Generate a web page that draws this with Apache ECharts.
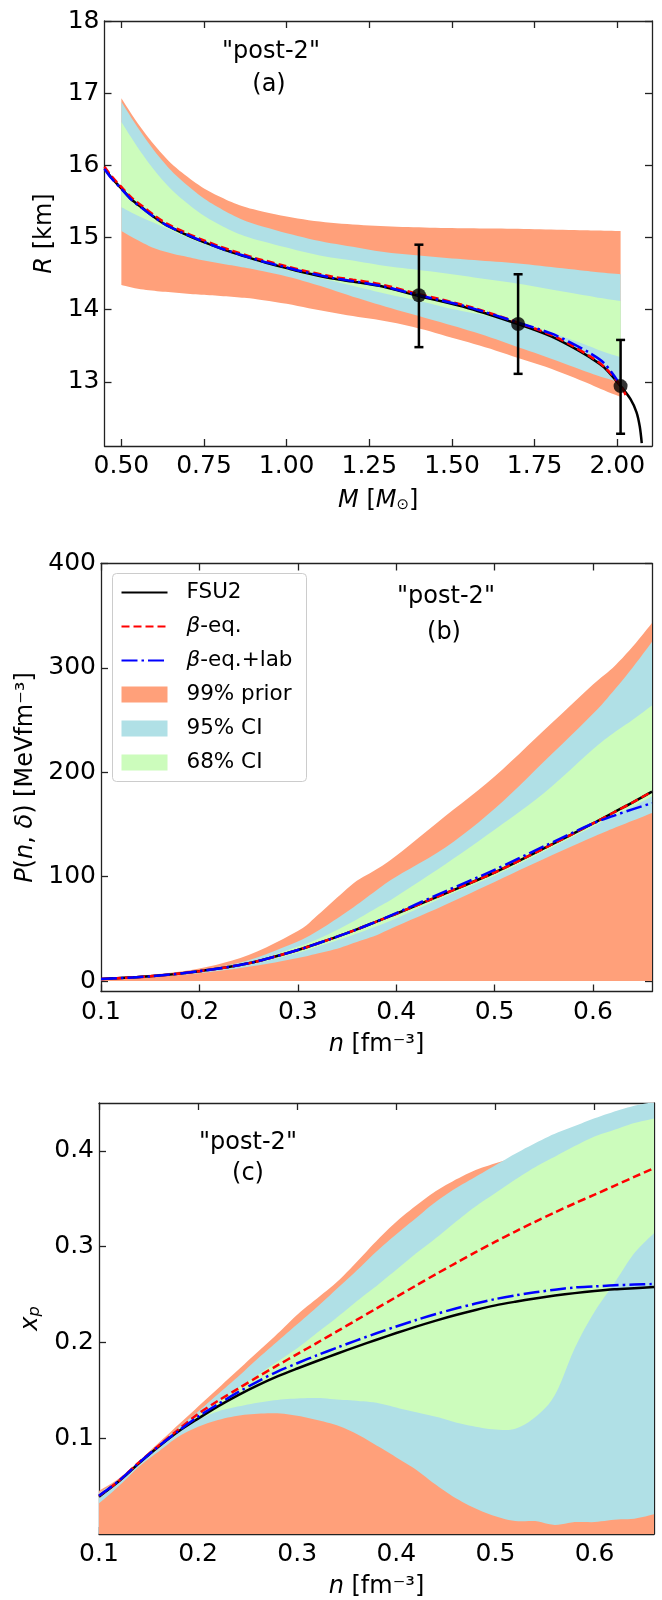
<!DOCTYPE html>
<html>
<head>
<meta charset="utf-8">
<script src="https://cdn.jsdelivr.net/npm/echarts@6/dist/echarts.min.js"></script>
<style>
html,body{margin:0;padding:0;background:#fff;}
#chart{width:662px;height:1600px;}
</style>
</head>
<body>
<div id="chart"></div>
<script>
// ---------------- Panel (a): M-R ----------------
const A_M = [0.5,0.55,0.6,0.65,0.7,0.75,0.8,0.85,0.9,1.0,1.1,1.2,1.3,1.4,1.5,1.6,1.7,1.8,1.9,1.95,2.01];
const A_99_HI = [16.93,16.58,16.28,16.03,15.84,15.68,15.56,15.46,15.39,15.29,15.22,15.18,15.155,15.14,15.13,15.125,15.12,15.11,15.10,15.095,15.09];
const A_95_HI = [16.88,16.52,16.20,15.93,15.72,15.54,15.40,15.28,15.19,15.06,14.95,14.87,14.795,14.75,14.71,14.675,14.64,14.59,14.54,14.515,14.49];
const A_68_HI = [16.60,16.245,15.93,15.67,15.47,15.30,15.17,15.06,14.98,14.86,14.75,14.68,14.605,14.55,14.49,14.425,14.36,14.28,14.20,14.16,14.12];
const A_68_LO = [15.42,15.30,15.20,15.10,15.00,14.91,14.83,14.76,14.69,14.55,14.44,14.33,14.22,14.12,14.01,13.92,13.82,13.68,13.52,13.43,13.34];
const A_95_LO = [15.09,14.96,14.85,14.78,14.73,14.68,14.64,14.60,14.56,14.46,14.33,14.18,14.04,13.91,13.78,13.64,13.48,13.32,13.15,13.07,12.99];
const A_99_LO = [14.34,14.29,14.26,14.24,14.22,14.205,14.19,14.17,14.15,14.08,13.99,13.91,13.84,13.74,13.61,13.48,13.33,13.18,13.00,12.90,12.79];

const A_FSU2_M = [0.449,0.47,0.5,0.53,0.566,0.6,0.636,0.7,0.736,0.8,0.837,0.9,0.938,1.0,1.038,1.139,1.2,1.28,1.4,1.55,1.7,1.8,1.856,1.92,1.96,2.01,2.04,2.058,2.068,2.074];
const A_FSU2_R = [15.96,15.83,15.68,15.53,15.40,15.28,15.17,15.03,14.96,14.85,14.79,14.70,14.65,14.575,14.53,14.43,14.39,14.33,14.19,14.02,13.80,13.63,13.50,13.33,13.20,12.94,12.76,12.58,12.38,12.15];
const A_BEQ_M = [0.449,0.47,0.5,0.53,0.566,0.6,0.636,0.7,0.736,0.8,0.837,0.9,0.938,1.0,1.038,1.139,1.2,1.28,1.4,1.55,1.7,1.8,1.856,1.92,1.96,2.01,2.027];
const A_BEQ_R = [15.98,15.85,15.70,15.555,15.425,15.305,15.195,15.055,14.985,14.87,14.815,14.72,14.675,14.60,14.555,14.455,14.415,14.355,14.215,14.045,13.82,13.65,13.52,13.345,13.21,12.95,12.80];
const A_LAB_M = [0.449,0.47,0.5,0.53,0.566,0.6,0.636,0.7,0.736,0.8,0.837,0.9,0.938,1.0,1.038,1.139,1.2,1.28,1.4,1.55,1.7,1.8,1.856,1.92,1.96,2.0];
const A_LAB_R = [15.95,15.82,15.675,15.525,15.395,15.28,15.17,15.035,14.965,14.85,14.795,14.705,14.655,14.585,14.54,14.44,14.395,14.335,14.20,14.035,13.82,13.67,13.55,13.39,13.26,13.02];

const A_OBS_M = [1.4,1.7,2.01];
const A_OBS_R = [14.2,13.8,12.94];
const A_OBS_LO = [13.48,13.11,12.28];
const A_OBS_HI = [14.9,14.49,13.58];

const A_X_TICKS = [0.5,0.75,1.0,1.25,1.5,1.75,2.0];
const A_Y_TICKS = [13,14,15,16,17,18];

// ---------------- Panel (b): P(n) ----------------
const B_N = [0.1,0.15,0.2,0.25,0.3,0.32,0.34,0.36,0.38,0.4,0.45,0.5,0.55,0.6,0.62,0.64,0.66];
const B_99_HI = [3,6,12,25,48,63,80,96,107,120,158,196,240,284,300,320,343];
const B_95_HI = [2.5,5,10.5,20,38,48,60,73,87,100,128,165,210,256,277,300,325];
const B_68_HI = [2.3,4.8,10,18,33,40,49,59,70,81,112,145,180,222,237,250,264];
const B_68_LO = [1.8,4,8.5,15.5,27,33,39,45.5,52.5,60,81,101,124,148,158,167,177];
const B_95_LO = [1.5,3.5,7.5,13.6,22,26.5,31,37.5,44,52.5,73,95,117,138,146,153.5,161];
const B_99_LO = [0,0,0,0,0,0,0,0,0,0,0,0,0,0,0,0,0];
const B_FSU2 = [2,4.5,9.5,17,29.7,36,42.5,49.5,57,64.5,84,104,127,151,161,171,181.5];
const B_BEQ = [2,4.5,9.5,17,29.7,36,42.5,49.5,57,64.5,84,104,127,151,161,171,181.5];
const B_LAB = [2,4.5,9.5,17,29.7,36,42.5,49.5,57,65,86,106.5,129,151,158,164.5,170.5];
const B_X_TICKS = [0.1,0.2,0.3,0.4,0.5,0.6];
const B_Y_TICKS = [0,100,200,300,400];

// ---------------- Panel (c): x_p(n) ----------------
const C_N = [0.1,0.12,0.14,0.16,0.18,0.2,0.22,0.24,0.26,0.28,0.3,0.32,0.34,0.36,0.38,0.4,0.42,0.44,0.46,0.48,0.5,0.52,0.54,0.56,0.58,0.6,0.62,0.64,0.66];
const C_99_HI = [0.045,0.058,0.076,0.095,0.114,0.133,0.152,0.171,0.190,0.209,0.229,0.246,0.263,0.284,0.306,0.326,0.343,0.358,0.370,0.380,0.387,0.393,0.398,0.402,0.406,0.410,0.414,0.418,0.422];
const C_95_HI = [0.043,0.057,0.075,0.093,0.111,0.128,0.146,0.164,0.183,0.201,0.219,0.237,0.256,0.275,0.295,0.313,0.330,0.347,0.361,0.373,0.385,0.397,0.408,0.418,0.426,0.434,0.441,0.447,0.451];
const C_68_HI = [0.041,0.0565,0.0745,0.092,0.109,0.124,0.138,0.152,0.166,0.180,0.194,0.210,0.226,0.243,0.259,0.276,0.293,0.309,0.326,0.342,0.356,0.370,0.383,0.394,0.405,0.415,0.422,0.429,0.4337];
const C_68_LO = [0.038,0.054,0.072,0.090,0.106,0.119,0.128,0.133,0.137,0.140,0.1415,0.142,0.1405,0.139,0.137,0.132,0.127,0.1225,0.1165,0.112,0.109,0.110,0.122,0.145,0.194,0.232,0.262,0.293,0.314];
const C_95_LO = [0.032,0.050,0.070,0.086,0.1015,0.112,0.119,0.1235,0.1255,0.126,0.1235,0.119,0.1135,0.1045,0.0925,0.080,0.067,0.0513,0.0374,0.0265,0.0185,0.0135,0.0135,0.0095,0.0125,0.0125,0.015,0.016,0.0205];
const C_99_LO = [0,0,0,0,0,0,0,0,0,0,0,0,0,0,0,0,0,0,0,0,0,0,0,0,0,0,0,0,0];
const C_FSU2 = [0.039,0.055,0.0735,0.091,0.107,0.1205,0.1333,0.1448,0.1552,0.1646,0.1728,0.1806,0.1882,0.1956,0.2028,0.2098,0.2165,0.2228,0.2286,0.2339,0.2387,0.2425,0.2459,0.2489,0.2515,0.2537,0.2555,0.2567,0.2578];
const C_BEQ = [0.040,0.0555,0.0745,0.092,0.109,0.1255,0.139,0.1515,0.164,0.176,0.1878,0.1996,0.2115,0.2235,0.2355,0.2475,0.2595,0.2713,0.2829,0.2942,0.3052,0.3158,0.326,0.3358,0.3452,0.3543,0.3635,0.3728,0.382];
const C_LAB = [0.040,0.0555,0.074,0.0915,0.1075,0.1225,0.1355,0.1478,0.1592,0.1696,0.1783,0.1866,0.1945,0.2022,0.2096,0.2167,0.2234,0.2297,0.2354,0.2406,0.2453,0.2491,0.2523,0.2551,0.2574,0.2585,0.2597,0.2604,0.261];
const C_X_TICKS = [0.1,0.2,0.3,0.4,0.5,0.6];
const C_Y_TICKS = [0.1,0.2,0.3,0.4];

// ---------------- styling helpers ----------------
const FONT = 'DejaVu Sans';
const C_PRIOR = '#ffa07a', C_95 = '#b0e0e6', C_68 = '#ccfcbc';
const TICK_FS = 25;
const zip = (xs, ys) => xs.map((x, i) => [x, ys[i]]);

function xAxes(gi, min, max, ticks, dec, name, gap) {
  const common = {
    type: 'value', gridIndex: gi, min, max, splitLine: {show: false},
    axisLine: {show: true, onZero: false, lineStyle: {color: '#222', width: 1.3}},
    axisTick: {show: true, inside: true, length: 7, customValues: ticks, lineStyle: {color: '#222', width: 1.3}}
  };
  return [
    Object.assign({}, common, {
      position: 'bottom',
      axisLabel: {show: true, customValues: ticks, margin: 8, fontFamily: FONT, fontSize: TICK_FS, color: '#000',
        formatter: v => Number(v).toFixed(dec)},
      name, nameLocation: 'middle', nameGap: gap,
      nameTextStyle: {fontFamily: FONT, fontSize: 24, color: '#000',
        rich: {i: {fontFamily: FONT, fontSize: 24, fontStyle: 'italic', color: '#000'},
               sub: {fontFamily: FONT, fontSize: 15, color: '#000', verticalAlign: 'bottom', lineHeight: 20}}}
    }),
    Object.assign({}, common, {position: 'top', axisLabel: {show: false}})
  ];
}
function yAxes(gi, min, max, ticks, dec, name, gap) {
  const common = {
    type: 'value', gridIndex: gi, min, max, splitLine: {show: false},
    axisLine: {show: true, onZero: false, lineStyle: {color: '#222', width: 1.3}},
    axisTick: {show: true, inside: true, length: 7, customValues: ticks, lineStyle: {color: '#222', width: 1.3}}
  };
  return [
    Object.assign({}, common, {
      position: 'left',
      axisLabel: {show: true, customValues: ticks, margin: 5, fontFamily: FONT, fontSize: TICK_FS, color: '#000',
        formatter: v => Number(v).toFixed(dec)},
      name, nameLocation: 'middle', nameGap: gap, nameRotate: 90,
      nameTextStyle: {fontFamily: FONT, fontSize: 24, color: '#000',
        rich: {i: {fontFamily: FONT, fontSize: 24, fontStyle: 'italic', color: '#000'},
               sub: {fontFamily: FONT, fontSize: 16, fontStyle: 'italic', color: '#000', verticalAlign: 'bottom', lineHeight: 22}}}
    }),
    Object.assign({}, common, {position: 'right', axisLabel: {show: false}})
  ];
}

// Catmull-Rom smoothing of a pixel polyline (drawing style only)
function smoothPath(p, seg) {
  if (p.length < 3) return p.slice();
  const out = [];
  for (let i = 0; i < p.length - 1; i++) {
    const p0 = p[Math.max(i - 1, 0)], p1 = p[i], p2 = p[i + 1], p3 = p[Math.min(i + 2, p.length - 1)];
    for (let s = 0; s < seg; s++) {
      const t = s / seg, t2 = t * t, t3 = t2 * t;
      out.push([0, 1].map(k => 0.5 * ((2 * p1[k]) + (-p0[k] + p2[k]) * t +
        (2 * p0[k] - 5 * p1[k] + 4 * p2[k] - p3[k]) * t2 + (-p0[k] + 3 * p1[k] - 3 * p2[k] + p3[k]) * t3)));
    }
  }
  out.push(p[p.length - 1]);
  return out;
}

function band(name, gi, xs, lo, hi, color) {
  return {
    type: 'custom', name, xAxisIndex: 2 * gi, yAxisIndex: 2 * gi, silent: true, clip: true, z: 1,
    itemStyle: {color},
    encode: {x: 0, y: [1, 2]},
    data: xs.map((x, i) => [x, lo[i], hi[i]]),
    renderItem: function (params, api) {
      if (params.dataIndex !== 0) return null;
      const up = xs.map((x, i) => api.coord([x, hi[i]]));
      const dn = xs.map((x, i) => api.coord([x, lo[i]]));
      const pts = smoothPath(up, 6).concat(smoothPath(dn, 6).reverse());
      return {type: 'polygon', shape: {points: pts}, style: {fill: color}};
    }
  };
}
function line(name, gi, data, color, width, type, z) {
  return {
    type: 'line', name, xAxisIndex: 2 * gi, yAxisIndex: 2 * gi, data, symbol: 'none', showSymbol: false,
    smooth: 0.3, clip: true, z: z, silent: true,
    itemStyle: {color},
    lineStyle: {color, width, type}
  };
}

const series = [];
// panel a
series.push(band('99% prior', 0, A_M, A_99_LO, A_99_HI, C_PRIOR));
series.push(band('95% CI', 0, A_M, A_95_LO, A_95_HI, C_95));
series.push(band('68% CI', 0, A_M, A_68_LO, A_68_HI, C_68));
series.push(line('FSU2', 0, zip(A_FSU2_M, A_FSU2_R), '#000000', 2.5, 'solid', 3));
series.push(line('β-eq.', 0, zip(A_BEQ_M, A_BEQ_R), '#ff0000', 2.5, [8, 4], 4));
series.push(line('β-eq.+lab', 0, zip(A_LAB_M, A_LAB_R), '#0000ff', 2.5, [16, 4, 2.5, 4], 5));
series.push({
  type: 'custom', name: 'obs-err', xAxisIndex: 0, yAxisIndex: 0, z: 6, silent: true,
  encode: {x: 0, y: [2, 3]},
  data: A_OBS_M.map((m, i) => [m, A_OBS_R[i], A_OBS_LO[i], A_OBS_HI[i]]),
  renderItem: function (params, api) {
    const x = api.value(0);
    const top = api.coord([x, api.value(3)]);
    const bot = api.coord([x, api.value(2)]);
    const st = {stroke: '#000', lineWidth: 2.5};
    return {type: 'group', children: [
      {type: 'line', shape: {x1: top[0], y1: top[1], x2: bot[0], y2: bot[1]}, style: st},
      {type: 'line', shape: {x1: top[0] - 4.5, y1: top[1], x2: top[0] + 4.5, y2: top[1]}, style: st},
      {type: 'line', shape: {x1: bot[0] - 4.5, y1: bot[1], x2: bot[0] + 4.5, y2: bot[1]}, style: st}
    ]};
  }
});
series.push({
  type: 'scatter', name: 'obs', xAxisIndex: 0, yAxisIndex: 0, z: 7, silent: true,
  symbol: 'circle', symbolSize: 14, itemStyle: {color: '#000'},
  data: zip(A_OBS_M, A_OBS_R)
});
// panel b
series.push(band('99% prior', 1, B_N, B_99_LO, B_99_HI, C_PRIOR));
series.push(band('95% CI', 1, B_N, B_95_LO, B_95_HI, C_95));
series.push(band('68% CI', 1, B_N, B_68_LO, B_68_HI, C_68));
series.push(line('FSU2', 1, zip(B_N, B_FSU2), '#000000', 2.5, 'solid', 3));
series.push(line('β-eq.', 1, zip(B_N, B_BEQ), '#ff0000', 2.5, [8, 4], 4));
series.push(line('β-eq.+lab', 1, zip(B_N, B_LAB), '#0000ff', 2.5, [16, 4, 2.5, 4], 5));
// panel c
series.push(band('99% prior', 2, C_N, C_99_LO, C_99_HI, C_PRIOR));
series.push(band('95% CI', 2, C_N, C_95_LO, C_95_HI, C_95));
series.push(band('68% CI', 2, C_N, C_68_LO, C_68_HI, C_68));
series.push(line('FSU2', 2, zip(C_N, C_FSU2), '#000000', 2.5, 'solid', 3));
series.push(line('β-eq.', 2, zip(C_N, C_BEQ), '#ff0000', 2.5, [8, 4], 4));
series.push(line('β-eq.+lab', 2, zip(C_N, C_LAB), '#0000ff', 2.5, [16, 4, 2.5, 4], 5));

const titleFont = '24px "DejaVu Sans"';
function label(text, x, y) {
  return {type: 'text', style: {text, x, y, font: titleFont, fill: '#000', textAlign: 'center', textVerticalAlign: 'middle'}, z: 10};
}

const option = {
  animation: false,
  backgroundColor: '#ffffff',
  grid: [
    {left: 104.5, top: 21, width: 547.5, height: 425},
    {left: 101, top: 563.5, width: 551, height: 428},
    {left: 99, top: 1103, width: 555, height: 432}
  ],
  xAxis: [].concat(
    xAxes(0, 0.449, 2.105, A_X_TICKS, 2, '{i|M} [{i|M}{sub|⊙}]', 43),
    xAxes(1, 0.1, 0.66, B_X_TICKS, 1, '{i|n} [fm⁻³]', 41),
    xAxes(2, 0.1, 0.66, C_X_TICKS, 1, '{i|n} [fm⁻³]', 41)
  ),
  yAxis: [].concat(
    yAxes(0, 12.11, 18, A_Y_TICKS, 0, '{i|R} [km]', 44),
    yAxes(1, -10, 400, B_Y_TICKS, 0, '{i|P}({i|n}, {i|δ}) [MeVfm⁻³]', 59),
    yAxes(2, 0, 0.45, C_Y_TICKS, 1, '{i|x}{sub|p}', 56)
  ),
  legend: {
    orient: 'vertical', left: 112.5, top: 573.5,
    padding: [8, 14, 8, 8], itemGap: 12, itemWidth: 46, itemHeight: 16,
    borderColor: '#cccccc', borderWidth: 1, borderRadius: 4,
    backgroundColor: 'rgba(255,255,255,0.85)', selectedMode: false,
    textStyle: {fontFamily: FONT, fontSize: 21.5, color: '#000', padding: [0, 0, 0, 14],
      rich: {i: {fontFamily: FONT, fontSize: 21.5, fontStyle: 'italic', color: '#000'}}},
    formatter: n => n.charAt(0) === 'β' ? '{i|β}' + n.slice(1) : n,
    data: [
      {name: 'FSU2', itemStyle: {opacity: 0}},
      {name: 'β-eq.', itemStyle: {opacity: 0}},
      {name: 'β-eq.+lab', itemStyle: {opacity: 0}},
      {name: '99% prior', icon: 'rect'}, {name: '95% CI', icon: 'rect'}, {name: '68% CI', icon: 'rect'}
    ]
  },
  graphic: [
    label('"post-2"', 271, 52), label('(a)', 269, 85),
    label('"post-2"', 446, 597), label('(b)', 444, 633),
    label('"post-2"', 248, 1143), label('(c)', 248, 1174)
  ],
  series
};

const chart = echarts.init(document.getElementById('chart'), null, {renderer: 'canvas', width: 662, height: 1600});
chart.setOption(option);
</script>
</body>
</html>
